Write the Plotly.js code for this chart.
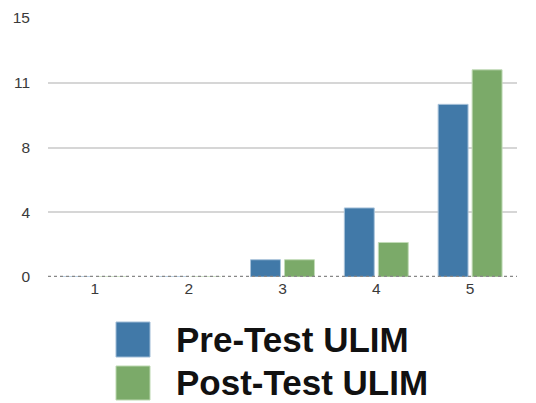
<!DOCTYPE html>
<html>
<head>
<meta charset="utf-8">
<script src="https://cdn.plot.ly/plotly-3.0.1.min.js"></script>
<style>html,body{margin:0;padding:0;background:#fff;}#chart{width:536px;height:403px;}</style>
</head>
<body>
<div id="chart"></div>
<script>
var categories = ['1', '2', '3', '4', '5'];
var preTest = [0, 0, 1, 4, 10];
var postTest = [0, 0, 1, 2, 12];
var seriesNames = ['Pre-Test ULIM', 'Post-Test ULIM'];
var seriesColors = ['#4179A8', '#7BAA69'];
var yTickValues = [0, 3.75, 7.5, 11.25, 15];
var yTickLabels = ['0', '4', '8', '11', '15'];

var traces = [
  {type: 'bar', name: seriesNames[0], x: categories, y: preTest,
   marker: {color: seriesColors[0], line: {color: '#a9c3da', width: 1}}, showlegend: false},
  {type: 'bar', name: seriesNames[1], x: categories, y: postTest,
   marker: {color: seriesColors[1], line: {color: '#c2dbb8', width: 1}}, showlegend: false}
];

var pxToPaperX = function (px) { return (px - 48) / 469; };
var pxToPaperY = function (py) { return (277 - py) / 259; };

var layout = {
  width: 536, height: 403,
  margin: {l: 48, r: 19, t: 18, b: 126},
  paper_bgcolor: '#fff', plot_bgcolor: '#fff',
  barmode: 'group', bargap: 0.275, bargroupgap: 0.12,
  showlegend: false,
  font: {family: 'Liberation Sans, Arial, sans-serif', color: '#3a3a3a', size: 15},
  xaxis: {type: 'category', showgrid: false, zeroline: false, showline: false,
          ticks: '', tickfont: {size: 15.5, color: '#3a3a3a'}},
  yaxis: {range: [0, 15], tickvals: yTickValues, ticktext: yTickLabels,
          showgrid: true, gridcolor: '#d6d6d6', gridwidth: 2, zeroline: false,
          showline: false, ticks: '', ticklabelstandoff: 17,
          tickfont: {size: 15.5, color: '#3a3a3a'}},
  shapes: [
    {type: 'line', xref: 'paper', yref: 'y', x0: 0, x1: 1, y0: 0, y1: 0,
     line: {color: '#888888', width: 2.5, dash: 'dot'}, layer: 'above'},
    {type: 'rect', xref: 'paper', yref: 'paper',
     x0: pxToPaperX(116), x1: pxToPaperX(150), y0: pxToPaperY(357), y1: pxToPaperY(322),
     fillcolor: seriesColors[0], line: {color: '#9fbcd6', width: 1}},
    {type: 'rect', xref: 'paper', yref: 'paper',
     x0: pxToPaperX(116), x1: pxToPaperX(150), y0: pxToPaperY(400), y1: pxToPaperY(366),
     fillcolor: seriesColors[1], line: {color: '#bcd8b0', width: 1}}
  ],
  annotations: [
    {xref: 'paper', yref: 'paper', x: pxToPaperX(174), y: pxToPaperY(339),
     xanchor: 'left', yanchor: 'middle', showarrow: false, text: seriesNames[0],
     font: {family: 'Liberation Sans, Arial, sans-serif', size: 35, color: '#111', weight: 'bold'}},
    {xref: 'paper', yref: 'paper', x: pxToPaperX(174), y: pxToPaperY(382),
     xanchor: 'left', yanchor: 'middle', showarrow: false, text: seriesNames[1],
     font: {family: 'Liberation Sans, Arial, sans-serif', size: 35, color: '#111', weight: 'bold'}}
  ]
};

Plotly.newPlot('chart', traces, layout, {displayModeBar: false, staticPlot: true});
</script>
</body>
</html>
